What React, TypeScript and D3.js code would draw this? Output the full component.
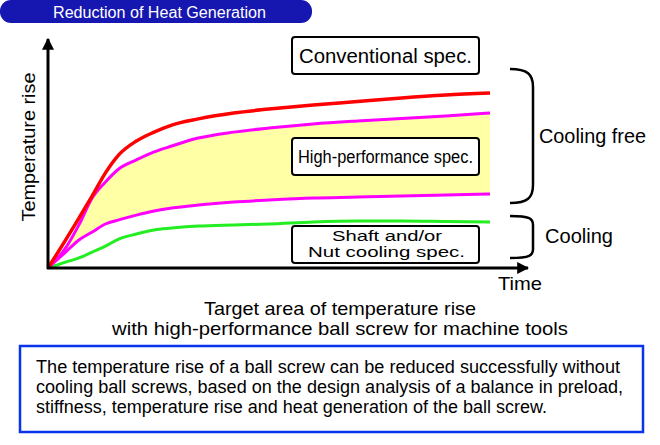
import React from 'react'
import * as d3 from 'd3'

// time axis samples (arbitrary units, 0..100) and temperature rise (0..100)
const times = [0, 4, 7, 10, 13, 16, 20, 24, 28, 34, 42, 50, 60, 70, 80, 90, 100]
const conventional = [0, 12.3, 21.9, 31.6, 41.7, 49.6, 55.7, 59.6, 62.7, 65.4, 68.0, 69.7, 71.5, 73.0, 74.6, 75.9, 76.8]
const highUpper = [0, 8.8, 18.9, 30.7, 37.7, 43.4, 47.4, 50.9, 53.5, 57.0, 59.6, 61.4, 63.2, 64.5, 65.6, 66.7, 68.0]
const highLower = [0, 7.0, 12.3, 15.8, 19.3, 21.1, 23.2, 25.0, 26.3, 27.6, 28.9, 29.8, 30.7, 31.1, 31.6, 32.0, 32.5]
const cooling = [0, 2.6, 4.4, 7.0, 9.6, 12.7, 14.9, 16.7, 17.5, 18.4, 18.9, 19.3, 20.2, 20.6, 20.6, 20.4, 20.2]

const titleText = 'Reduction of Heat Generation'
const captionLines = ['Target area of temperature rise', 'with high-performance ball screw for machine tools']
const captionWidths = [272, 456]
const noteLines = [
  'The temperature rise of a ball screw can be reduced successfully without',
  'cooling ball screws, based on the design analysis of a balance in preload,',
  'stiffness, temperature rise and heat generation of the ball screw.',
]
const noteWidths = [584, 587, 511]

const W = 660
const H = 445
const font = '"Liberation Sans", Arial, Helvetica, sans-serif'

// rounded bracket, open to the left
function bracket(x: number, y0: number, y1: number, w: number, r: number) {
  return `M${x},${y0} C${x + w - r * 0.3},${y0} ${x + w},${y0 + r * 0.3} ${x + w},${y0 + r}
    L${x + w},${y1 - r} C${x + w},${y1 - r * 0.3} ${x + w - r * 0.3},${y1} ${x},${y1}`
}

export default function App() {
  const x = d3.scaleLinear().domain([0, 100]).range([48, 490])
  const y = d3.scaleLinear().domain([0, 100]).range([268, 40])

  const line = (vals: number[]) =>
    d3
      .line<number>()
      .x((_, i) => x(times[i]))
      .y((d) => y(d))
      .curve(d3.curveMonotoneX)(vals) as string

  const band = d3
    .area<number>()
    .x((_, i) => x(times[i]))
    .y0((_, i) => y(highLower[i]))
    .y1((d) => y(d))
    .curve(d3.curveMonotoneX)(highUpper) as string

  const box = (bx: number, by: number, bw: number, bh: number) => (
    <rect x={bx} y={by} width={bw} height={bh} rx={3} fill="#fff" stroke="#000" strokeWidth={2} />
  )

  const fit = { lengthAdjust: 'spacingAndGlyphs' as const }

  return (
    <svg
      width={W}
      height={H}
      style={{ position: 'fixed', left: 0, top: 0, background: '#fff' }}
      fontFamily={font}
    >
      <defs>
        <marker id="arr" viewBox="0 0 10 10" refX="9" refY="5" markerWidth="4" markerHeight="4" orient="auto">
          <path d="M0,0 L10,5 L0,10 z" fill="#000" />
        </marker>
      </defs>

      {/* title pill */}
      <rect x={0} y={0} width={312} height={23} rx={11} fill="#1616b0" />
      <text x={53} y={18} fill="#fff" fontSize={16} textLength={213} {...fit}>
        {titleText}
      </text>

      {/* band + curves */}
      <path d={band} fill="#ffffa6" />
      <path d={line(cooling)} fill="none" stroke="#22ee22" strokeWidth={3} />
      <path d={line(highLower)} fill="none" stroke="#ff00ff" strokeWidth={3} />
      <path d={line(highUpper)} fill="none" stroke="#ff00ff" strokeWidth={3} />
      <path d={line(conventional)} fill="none" stroke="#ff0000" strokeWidth={3.5} />

      {/* axes */}
      <line x1={x(0)} y1={y(0) + 1} x2={x(0)} y2={39} stroke="#000" strokeWidth={3} markerEnd="url(#arr)" />
      <line x1={x(0) - 1} y1={y(0)} x2={528} y2={y(0)} stroke="#000" strokeWidth={3} markerEnd="url(#arr)" />
      <text x={498} y={290} fontSize={19} textLength={44} {...fit}>
        Time
      </text>
      <text transform={`translate(35,147) rotate(-90)`} textAnchor="middle" fontSize={18} textLength={149} {...fit}>
        Temperature rise
      </text>

      {/* label boxes */}
      {box(292, 37, 187, 37)}
      <text x={299} y={63} fontSize={19.5} textLength={173} {...fit}>
        Conventional spec.
      </text>
      {box(292, 138, 187, 37)}
      <text x={298} y={163} fontSize={18} textLength={175} {...fit}>
        High-performance spec.
      </text>
      {box(292, 226, 187, 37)}
      <text x={332} y={240.5} fontSize={14} textLength={110} {...fit}>
        Shaft and/or
      </text>
      <text x={308} y={256.5} fontSize={14} textLength={157} {...fit}>
        Nut cooling spec.
      </text>

      {/* brackets */}
      <path d={bracket(510, 69, 203, 23, 18)} fill="none" stroke="#000" strokeWidth={2.5} />
      <text x={539} y={143} fontSize={19.5} textLength={107} {...fit}>
        Cooling free
      </text>
      <path d={bracket(510, 216, 258, 23, 9)} fill="none" stroke="#000" strokeWidth={2.5} />
      <text x={545} y={243} fontSize={19.5} textLength={68} {...fit}>
        Cooling
      </text>

      {/* caption */}
      {captionLines.map((t, i) => (
        <text key={i} x={340} y={315 + i * 20} textAnchor="middle" fontSize={18.5} textLength={captionWidths[i]} {...fit}>
          {t}
        </text>
      ))}

      {/* note box */}
      <rect x={20} y={346} width={623} height={86} fill="#fff" stroke="#0a33ee" strokeWidth={2.5} />
      {noteLines.map((t, i) => (
        <text key={i} x={36} y={373 + i * 20} fontSize={17.5} textLength={noteWidths[i]} {...fit}>
          {t}
        </text>
      ))}
    </svg>
  )
}
